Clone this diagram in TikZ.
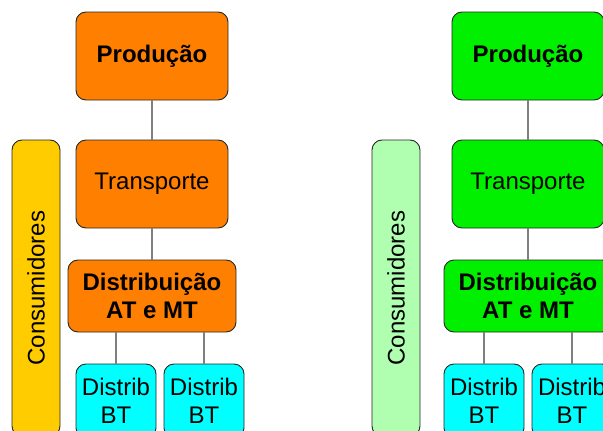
\documentclass[tikz,border=0pt]{standalone}
\usepackage{fontspec}
\setmainfont{Liberation Sans}
\definecolor{laranja}{HTML}{FF8000}
\definecolor{verde}{HTML}{00F000}
\definecolor{verdeclaro}{HTML}{B0FFB0}
\definecolor{ouro}{HTML}{FFCC00}
\definecolor{ciano}{HTML}{00FFFF}
\definecolor{cinza}{HTML}{808080}
\begin{document}
\begin{tikzpicture}
[x=1pt,y=1pt,
 caixa/.style={draw=black!85,line width=0.9pt,rounded corners=10pt,align=center,
   inner sep=0pt,font=\fontsize{24}{28}\selectfont},
 prod/.style={caixa,minimum width=152pt,minimum height=88pt},
 dist/.style={caixa,minimum width=168pt,minimum height=72pt},
 bt/.style={caixa,fill=ciano,minimum width=80pt,minimum height=74pt},
 cons/.style={caixa,rotate=90,minimum width=296pt,minimum height=48pt},
 level 1/.style={level distance=128pt},
 level 2/.style={level distance=112pt},
 level 3/.style={level distance=105pt,sibling distance=88pt},
 edge from parent/.style={draw=cinza,line width=1.6pt},
 edge from parent path={(\tikzchildnode.north) -- (\tikzchildnode.north |- \tikzparentnode.south)}]
\useasboundingbox (0,0) rectangle (603,-431);
\clip (0,0) rectangle (603,-431);
% esquerda
\node[cons,fill=ouro] (consA) at (36,-288) {Consumidores};
\node[prod,fill=laranja] (prodA) at (152,-56) {\textbf{Produção}}
  child {node[prod,fill=laranja] (transA) {Transporte}
    child {node[dist,fill=laranja] (distA) {\textbf{Distribuição}\\\textbf{AT e MT}}
      child {node[bt,xshift=8pt] (btA1) {Distrib\\BT}}
      child {node[bt,xshift=8pt] (btA2) {Distrib\\BT}}
    }
  };
% direita
\node[cons,fill=verdeclaro] (consB) at (396,-288) {Consumidores};
\node[prod,fill=verde] (prodB) at (528,-56) {\textbf{Produção}}
  child {node[prod,fill=verde] (transB) {Transporte}
    child {node[dist,fill=verde] (distB) {\textbf{Distribuição}\\\textbf{AT e MT}}
      child {node[bt] (btB1) {Distrib\\BT}}
      child {node[bt] (btB2) {Distrib\\BT}}
    }
  };
\end{tikzpicture}
\end{document}
